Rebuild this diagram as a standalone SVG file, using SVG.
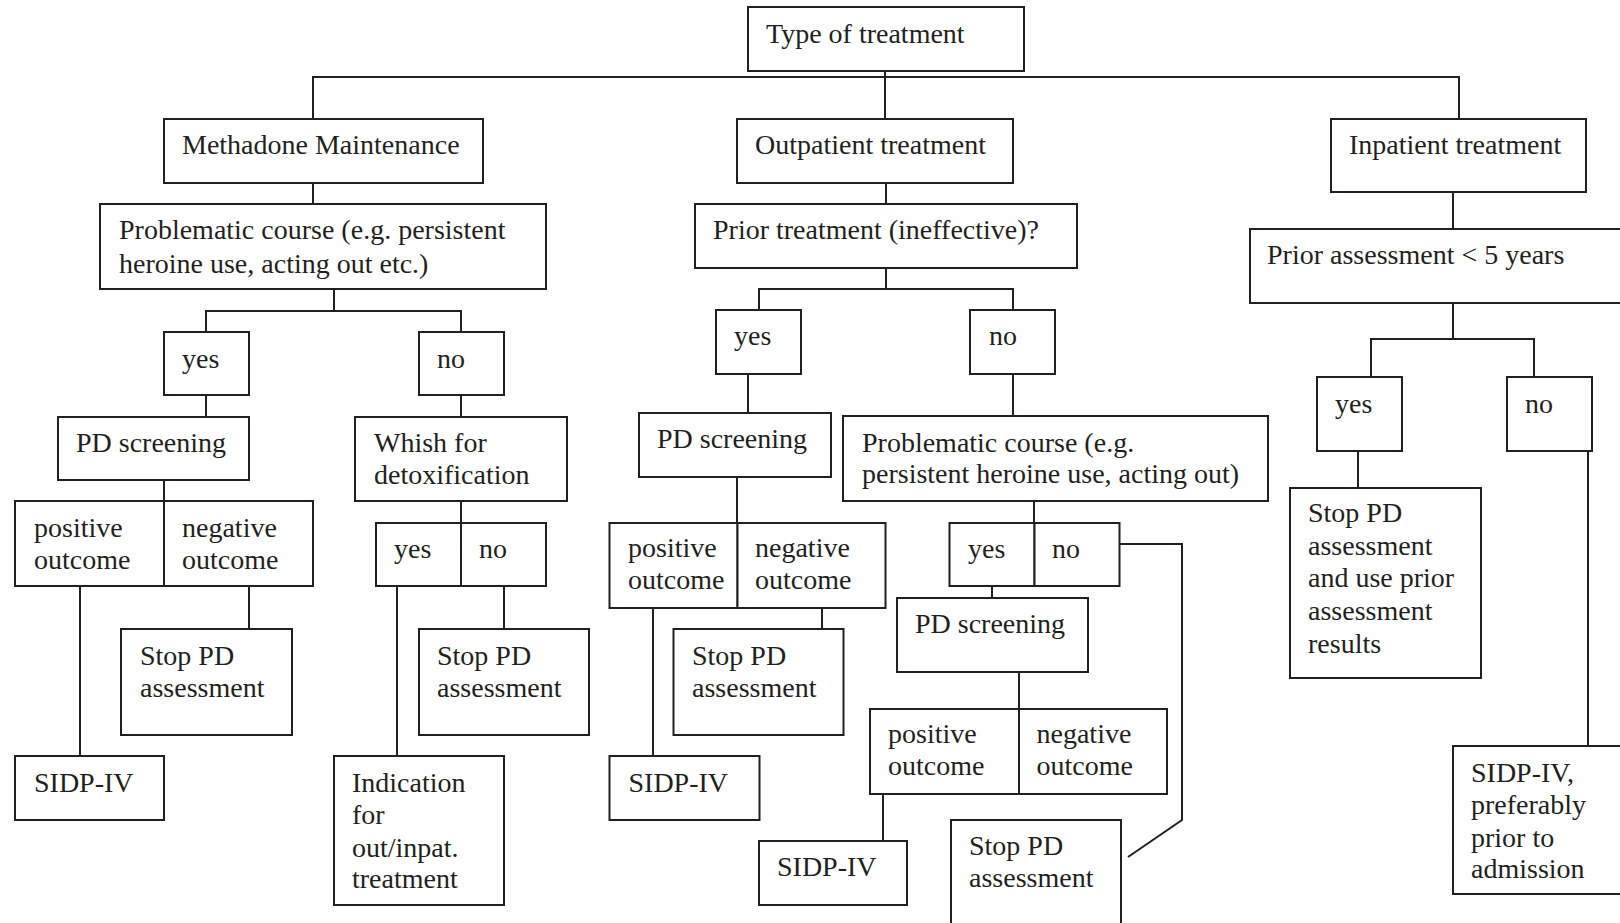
<svg xmlns="http://www.w3.org/2000/svg" width="1620" height="923" viewBox="0 0 1620 923">
<style>
.b{fill:#fff;stroke:#231f20;stroke-width:2}
.t{font-family:"Liberation Serif","Times New Roman",serif;font-size:28px;fill:#231f20}
.c{fill:none;stroke:#231f20;stroke-width:2}
</style>
<rect width="1620" height="923" fill="#fff"/>
<g id="connectors" class="c">
<path d="M313,119 V77 H1459 V119"/>
<path d="M885,71 V119"/>
<path d="M313,183 V204"/>
<path d="M886,183 V204"/>
<path d="M1453,192 V229"/>
<path d="M206,332 V311 H461 V332 M334,289 V311"/>
<path d="M206,395 V417"/>
<path d="M164,480 V501"/>
<path d="M80,586 V756"/>
<path d="M249,586 V629"/>
<path d="M461,395 V417"/>
<path d="M461,501 V523"/>
<path d="M397,586 V756"/>
<path d="M504,586 V629"/>
<path d="M759,310 V289 H1013 V310 M886,268 V289"/>
<path d="M748,374 V413"/>
<path d="M737,477 V523"/>
<path d="M653,607 V756"/>
<path d="M822,607 V629"/>
<path d="M1013,374 V416"/>
<path d="M1034,501 V523"/>
<path d="M992,586 V598"/>
<path d="M1119,544 H1182 V820 L1128,857"/>
<path d="M1019,672 V709"/>
<path d="M883,794 V841"/>
<path d="M1371,377 V339 H1534 V377 M1453,303 V339"/>
<path d="M1358,451 V488"/>
<path d="M1588,451 V746"/>
</g>
<g id="type"><rect class="b" x="748" y="7" width="276" height="64"/><text class="t" x="766" y="43">Type of treatment</text></g>
<g id="methadone"><rect class="b" x="164" y="119" width="319" height="64"/><text class="t" x="182" y="154">Methadone Maintenance</text></g>
<g id="outpatient"><rect class="b" x="737" y="119" width="276" height="64"/><text class="t" x="755" y="154">Outpatient treatment</text></g>
<g id="inpatient"><rect class="b" x="1331" y="119" width="255" height="73"/><text class="t" x="1349" y="154">Inpatient treatment</text></g>
<g id="prob1"><rect class="b" x="100" y="204" width="446" height="85"/><text class="t" x="119" y="239">Problematic course (e.g. persistent</text><text class="t" x="119" y="273">heroine use, acting out etc.)</text></g>
<g id="prior-treatment"><rect class="b" x="695" y="204" width="382" height="64"/><text class="t" x="713" y="239">Prior treatment (ineffective)?</text></g>
<g id="prior-assessment"><rect class="b" x="1250" y="229" width="380" height="74"/><text class="t" x="1267" y="264">Prior assessment &lt; 5 years</text></g>
<g id="yes1"><rect class="b" x="164" y="332" width="85" height="63"/><text class="t" x="182" y="368">yes</text></g>
<g id="no1"><rect class="b" x="419" y="332" width="85" height="63"/><text class="t" x="437" y="368">no</text></g>
<g id="pd1"><rect class="b" x="58" y="417" width="191" height="63"/><text class="t" x="76" y="452">PD screening</text></g>
<g id="whish"><rect class="b" x="355" y="417" width="212" height="84"/><text class="t" x="374" y="452">Whish for</text><text class="t" x="374" y="484">detoxification</text></g>
<g id="pos1"><rect class="b" x="15" y="501" width="149" height="85"/><text class="t" x="34" y="537">positive</text><text class="t" x="34" y="569">outcome</text></g>
<g id="neg1"><rect class="b" x="164" y="501" width="149" height="85"/><text class="t" x="182" y="537">negative</text><text class="t" x="182" y="569">outcome</text></g>
<g id="yes2"><rect class="b" x="376" y="523" width="85" height="63"/><text class="t" x="394" y="558">yes</text></g>
<g id="no2"><rect class="b" x="461" y="523" width="85" height="63"/><text class="t" x="479" y="558">no</text></g>
<g id="stop1"><rect class="b" x="121" y="629" width="171" height="106"/><text class="t" x="140" y="665">Stop PD</text><text class="t" x="140" y="697">assessment</text></g>
<g id="stop2"><rect class="b" x="419" y="629" width="170" height="106"/><text class="t" x="437" y="665">Stop PD</text><text class="t" x="437" y="697">assessment</text></g>
<g id="sidp1"><rect class="b" x="15" y="756" width="149" height="64"/><text class="t" x="34" y="792">SIDP-IV</text></g>
<g id="indication"><rect class="b" x="334" y="756" width="170" height="149"/><text class="t" x="352" y="792">Indication</text><text class="t" x="352" y="824">for</text><text class="t" x="352" y="857">out/inpat.</text><text class="t" x="352" y="888">treatment</text></g>
<g id="yes3"><rect class="b" x="716" y="310" width="85" height="64"/><text class="t" x="734" y="345">yes</text></g>
<g id="no3"><rect class="b" x="970" y="310" width="85" height="64"/><text class="t" x="989" y="345">no</text></g>
<g id="pd2"><rect class="b" x="639" y="413" width="192" height="64"/><text class="t" x="657" y="448">PD screening</text></g>
<g id="prob2"><rect class="b" x="843" y="416" width="425" height="85"/><text class="t" x="862" y="452">Problematic course (e.g.</text><text class="t" x="862" y="483">persistent heroine use, acting out)</text></g>
<g id="pos2"><rect class="b" x="609.5" y="523" width="128" height="85"/><text class="t" x="628" y="557">positive</text><text class="t" x="628" y="589">outcome</text></g>
<g id="neg2"><rect class="b" x="737.5" y="523" width="148" height="85"/><text class="t" x="755" y="557">negative</text><text class="t" x="755" y="589">outcome</text></g>
<g id="yes4"><rect class="b" x="949.5" y="523" width="85" height="63"/><text class="t" x="968" y="558">yes</text></g>
<g id="no4"><rect class="b" x="1034.5" y="523" width="85" height="63"/><text class="t" x="1052" y="558">no</text></g>
<g id="pd3"><rect class="b" x="897" y="598" width="191" height="74"/><text class="t" x="915" y="633">PD screening</text></g>
<g id="stop3"><rect class="b" x="673.5" y="629" width="170" height="106"/><text class="t" x="692" y="665">Stop PD</text><text class="t" x="692" y="697">assessment</text></g>
<g id="sidp2"><rect class="b" x="609.5" y="756" width="150" height="64"/><text class="t" x="628.5" y="792">SIDP-IV</text></g>
<g id="pos3"><rect class="b" x="870" y="709" width="149" height="85"/><text class="t" x="888" y="743">positive</text><text class="t" x="888" y="775">outcome</text></g>
<g id="neg3"><rect class="b" x="1019" y="709" width="148" height="85"/><text class="t" x="1036.5" y="743">negative</text><text class="t" x="1036.5" y="775">outcome</text></g>
<g id="sidp3"><rect class="b" x="759" y="841" width="148" height="64"/><text class="t" x="777" y="876">SIDP-IV</text></g>
<g id="stop4"><rect class="b" x="951" y="820" width="170" height="120"/><text class="t" x="969" y="855">Stop PD</text><text class="t" x="969" y="887">assessment</text></g>
<g id="yes5"><rect class="b" x="1317" y="377" width="85" height="74"/><text class="t" x="1335" y="413">yes</text></g>
<g id="no5"><rect class="b" x="1507" y="377" width="85" height="74"/><text class="t" x="1525" y="413">no</text></g>
<g id="stop5"><rect class="b" x="1290" y="488" width="191" height="190"/><text class="t" x="1308" y="522">Stop PD</text><text class="t" x="1308" y="555">assessment</text><text class="t" x="1308" y="587">and use prior</text><text class="t" x="1308" y="620">assessment</text><text class="t" x="1308" y="653">results</text></g>
<g id="sidp4"><rect class="b" x="1453" y="746" width="180" height="148"/><text class="t" x="1471" y="782">SIDP-IV,</text><text class="t" x="1471" y="814">preferably</text><text class="t" x="1471" y="847">prior to</text><text class="t" x="1471" y="878">admission</text></g>
</svg>
